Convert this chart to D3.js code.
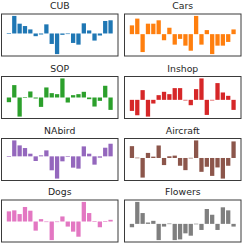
<!DOCTYPE html>
<html>
<head>
<meta charset="utf-8">
<script src="https://d3js.org/d3.v7.min.js"></script>
<style>
  body { margin: 0; background: #fff; }
  text { font-family: "DejaVu Sans", sans-serif; }
</style>
</head>
<body>
<div id="chart"></div>
<script>
// dataset names, in panel order (row by row)
var names = ["CUB", "Cars", "SOP", "Inshop", "NAbird", "Aircraft", "Dogs", "Flowers"];
var colors = ["#1f77b4", "#ff7f0e", "#2ca02c", "#d62728", "#9467bd", "#8c564b", "#e377c2", "#7f7f7f"];

// 20 values per panel
var cub      = [1, 52, 29, 22, 12, -8, -3, 27, -31, -61, -4, -1, -28, -33, 30, 9, -21, -6, 37, 39];
var cars     = [26, 46, -53, 31, 31, 41, -18, 19, -31, -14, -34, -49, 54, -31, 12, -59, -34, -34, -23, 14];
var sop      = [-14, 37, -57, 0.5, 18, -3, -28, 30, 13, 10, 57, -15, 7, 10, 17, -5, -27, -10, 35, -37];
var inshop   = [-33, -46, 29, -50, -11, 14, 24, 17, 35, 35, -1, -16, 32, 64, -45, -1, 50, 22, 12, -30];
var nabird   = [1, 48, 33, 25, 8, -14, 3, 18, -42, -67, -15, -1, -34, -37, 30, 8, -25, -4, 26, 38];
var aircraft = [35, 1, -58, 15, 4, 37, -21, 5, 7, -23, -36, 0.5, 52, -41, -26, -53, -28, -61, -23, 49];
var dogs     = [30, 33, 22, 43, 32, -27, 7, -1, -55, -0.5, 15, -15, -30, -45, 58, 25, 1, -17, 1, 5];
var flowers  = [-10, 65, 32, 4, 9, -48, -8, 1, -48, -46, -28, -35, 0.5, -18, 44, 27, -18, 49, 40, -8];

var series = [cub, cars, sop, inshop, nabird, aircraft, dogs, flowers];

var W = 244, H = 244;
var colLeft = [1.5, 124.5], panelW = 116.5;
var rowTop = [14, 76.5, 138.5, 200], panelH = 42;

var svg = d3.select("#chart").append("svg")
    .attr("width", W)
    .attr("height", H);

series.forEach(function(vals, i) {
    var col = i % 2, row = Math.floor(i / 2);
    var g = svg.append("g")
        .attr("transform", "translate(" + colLeft[col] + "," + rowTop[row] + ")");

    // matplotlib-like limits: bars of width 0.8, 5% margins
    var n = vals.length;
    var xpad = 0.05 * (n - 1 + 0.8);
    var x = d3.scaleLinear()
        .domain([-0.4 - xpad, n - 1 + 0.4 + xpad])
        .range([0, panelW]);

    var lo = Math.min(0, d3.min(vals)), hi = Math.max(0, d3.max(vals));
    var ypad = 0.05 * (hi - lo);
    var y = d3.scaleLinear()
        .domain([lo - ypad, hi + ypad])
        .range([panelH, 0]);

    g.selectAll("rect.bar")
        .data(vals)
        .enter()
        .append("rect")
        .attr("class", "bar")
        .attr("x", function(d, j) { return x(j - 0.4); })
        .attr("width", x(0.8) - x(0))
        .attr("y", function(d) { return y(Math.max(0, d)); })
        .attr("height", function(d) { return Math.max(0.6, Math.abs(y(d) - y(0))); })
        .attr("fill", colors[i]);

    // frame
    g.append("rect")
        .attr("width", panelW)
        .attr("height", panelH)
        .attr("fill", "none")
        .attr("stroke", "#3a3a3a")
        .attr("stroke-width", 1);

    g.append("text")
        .attr("x", panelW / 2)
        .attr("y", -4.8)
        .attr("text-anchor", "middle")
        .attr("font-size", "9.3px")
        .attr("fill", "#262626")
        .text(names[i]);
});
</script>
</body>
</html>
